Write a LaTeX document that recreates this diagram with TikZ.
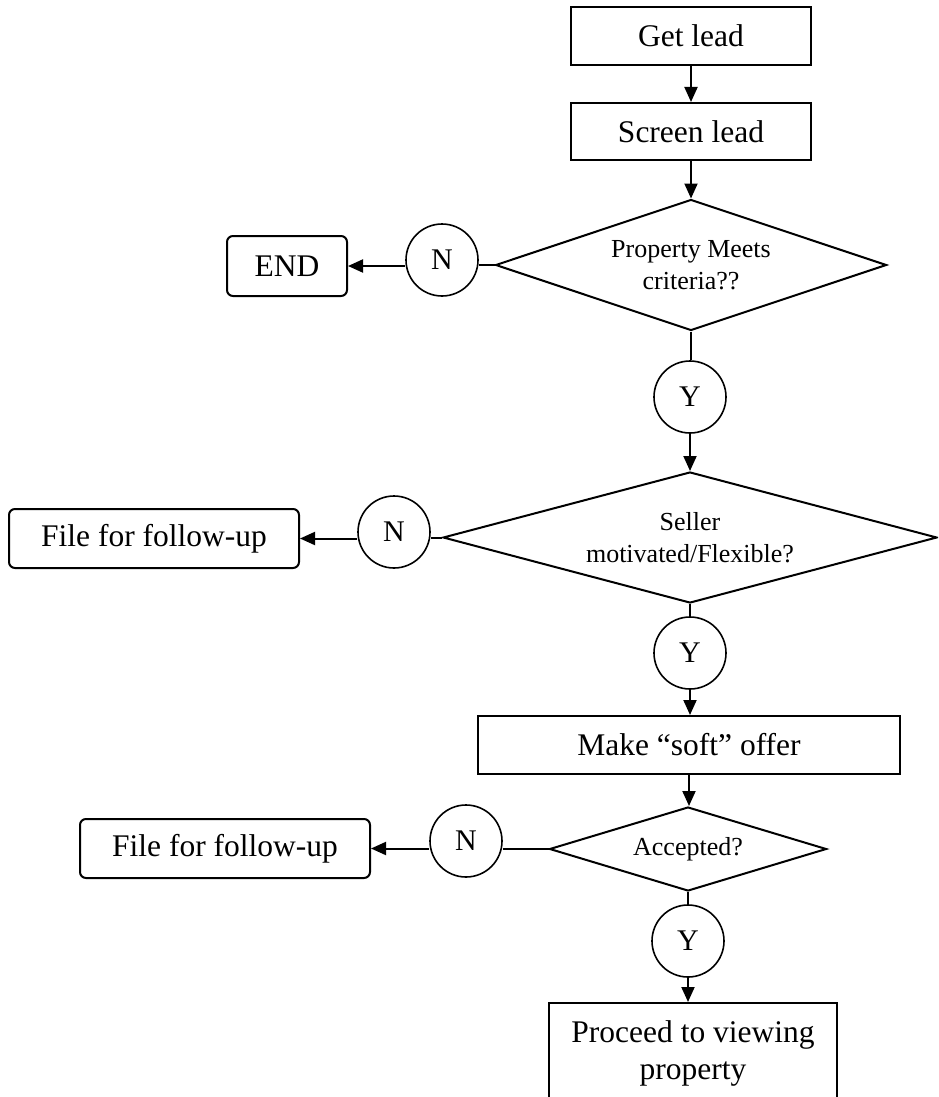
\documentclass[tikz,border=0pt]{standalone}
\usepackage{fontspec}
\setmainfont{Liberation Serif}
\usetikzlibrary{arrows.meta,shapes.geometric}
\newcommand\bigfnt{\fontsize{31.5}{37}\selectfont}
\newcommand\smallfnt{\fontsize{26}{32}\selectfont}
\newcommand\circfnt{\fontsize{30}{36}\selectfont}
\begin{document}
\begin{tikzpicture}[x=1pt,y=-1pt,line width=2pt,
  stepbox/.style={draw,rectangle,inner sep=0pt,font=\bigfnt,align=center},
  endbox/.style={stepbox,rounded corners=6pt},
  decision/.style={draw,diamond,inner sep=0pt,font=\smallfnt,align=center},
  yn/.style={draw,circle,line width=1.6pt,inner sep=0pt,minimum size=72pt,font=\circfnt},
  arr/.style={-{Triangle[length=15pt,width=13pt]}}]
\clip (0,0) rectangle (938,1097);
% boxes
\node[stepbox,minimum width=240pt,minimum height=58pt] (get) at (691,36) {Get lead};
\node[stepbox,minimum width=240pt,minimum height=57pt] (screen) at (691,131.5) {Screen lead};
\node[decision,minimum width=391pt,minimum height=131pt,shape aspect=3] (d1) at (691,265) {Property Meets\\criteria??};
\node[yn] (n1) at (442,260) {N};
\node[endbox,minimum width=120pt,minimum height=60pt] (end) at (287,266) {END};
\node[yn] (y1) at (690,397) {Y};
\node[decision,minimum width=494pt,minimum height=131pt,shape aspect=3.7] (d2) at (690,537.5) {Seller\\motivated/Flexible?};
\node[yn] (n2) at (394,532) {N};
\node[endbox,minimum width=290pt,minimum height=59pt] (file1) at (154,538.5) {File for follow-up};
\node[yn] (y2) at (690,653) {Y};
\node[stepbox,minimum width=422pt,minimum height=58pt] (make) at (689,745) {Make “soft” offer};
\node[decision,minimum width=277pt,minimum height=84pt,shape aspect=3.3] (d3) at (688,849) {Accepted?};
\node[yn] (n3) at (466,841) {N};
\node[endbox,minimum width=290pt,minimum height=59pt] (file2) at (225,848.5) {File for follow-up};
\node[yn] (y3) at (688,941) {Y};
\node[stepbox,minimum width=288pt,minimum height=100pt] (proceed) at (693,1053) {Proceed to viewing\\property};
% connectors
\draw[arr] (get.south) -- (get.south |- screen.north);
\draw[arr] (screen.south) -- (screen.south |- d1.north);
\draw (d1.south) -- (d1.south |- y1.north);
\draw[arr] (y1.south) -- (y1.south |- d2.north);
\draw (d2.south) -- (d2.south |- y2.north);
\draw[arr] (y2.south) -- (y2.south |- make.north);
\draw[arr] (make.south) -- (make.south |- d3.north);
\draw (d3.south) -- (d3.south |- y3.north);
\draw[arr] (y3.south) -- (y3.south |- proceed.north);
\draw (d1.west) -- (n1.east |- d1.west);
\draw[arr] (n1.west |- end.east) -- (end.east);
\draw (d2.west) -- (n2.east |- d2.west);
\draw[arr] (n2.west |- file1.east) -- (file1.east);
\draw (d3.west) -- (n3.east |- d3.west);
\draw[arr] (n3.west |- file2.east) -- (file2.east);
\end{tikzpicture}
\end{document}
